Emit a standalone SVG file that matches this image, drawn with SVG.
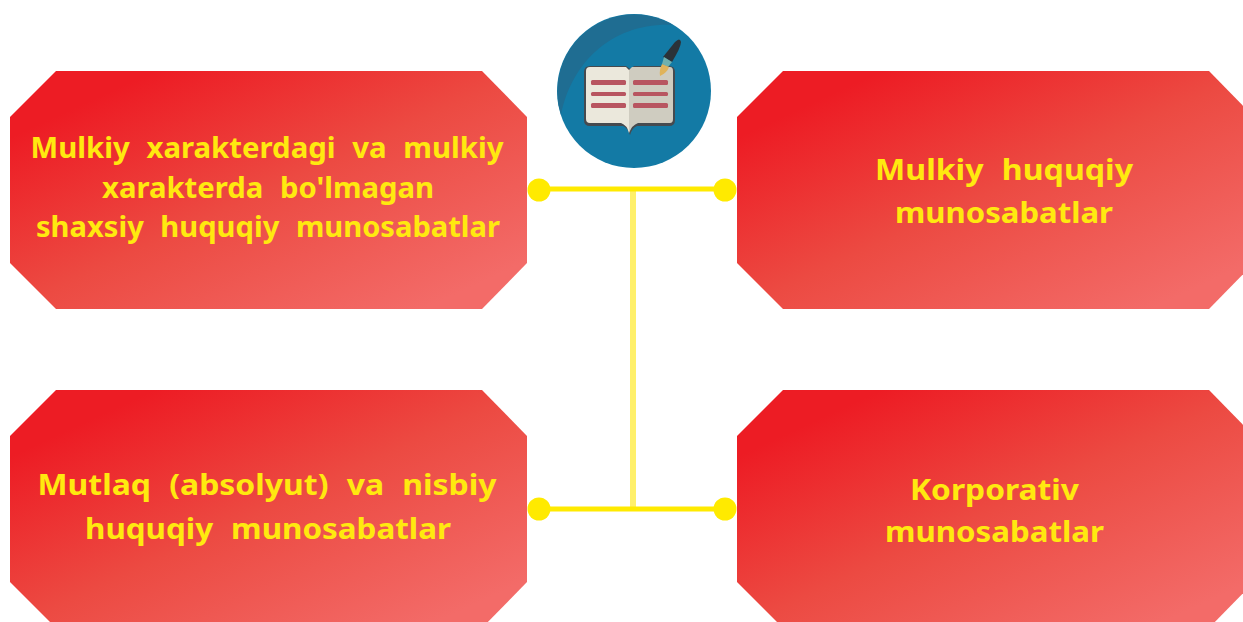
<svg xmlns="http://www.w3.org/2000/svg" width="1243" height="622" viewBox="0 0 1243 622">
<style>
.box{fill:url(#red)}
.t{font-family:"Noto Sans","Liberation Sans",sans-serif;font-weight:700;font-size:29px;fill:#ffe90f;text-anchor:middle;word-spacing:9px}
.ln{stroke:#ffea00;stroke-width:5;fill:none}
.v{stroke:#fff06a;stroke-width:6;fill:none}
.dot{fill:#ffea00}
.bar{fill:#b85560}
</style>
<defs>
<linearGradient id="red" gradientUnits="objectBoundingBox" x1="0" y1="0" x2="1" y2="1">
<stop offset="0.14" stop-color="#ed1c24"/><stop offset="0.5" stop-color="#ec4a42"/><stop offset="0.9" stop-color="#f36b68"/>
</linearGradient>
<polygon id="oct" points="46,0 472,0 517,46 517,192 472,238 46,238 0,192 0,46"/>
</defs>
<g id="connectors">
<line class="v" x1="633" y1="190" x2="633" y2="509"/>
<line class="ln" x1="539" y1="189" x2="725" y2="189"/>
<line class="ln" x1="539" y1="509" x2="725" y2="509"/>
<circle class="dot" cx="539" cy="190" r="11.5"/>
<circle class="dot" cx="725" cy="190" r="11.5"/>
<circle class="dot" cx="539" cy="509" r="11.5"/>
<circle class="dot" cx="725" cy="509" r="11.5"/>
</g>
<g id="icon">
<circle cx="634" cy="91" r="77" fill="#137aa5"/>
<path d="M561,115 A77,77 0 0 1 673,25 C615,22 572,60 561,115Z" fill="#1f6d92"/>
<path d="M590,66 H626 L630,69 L634,66 H669 Q675,66 675,72 V120 Q675,126 669,126 H637 Q632,128 630,135 Q628,128 623,126 H590 Q584,126 584,120 V72 Q584,66 590,66Z" fill="#464a4f"/>
<path d="M590,67 H626 L629,70 V133 Q627,125 621,123 H590 Q586,123 586,119 V71 Q586,67 590,67Z" fill="#ebe8dc"/>
<path d="M629,70 L632,67 H670 Q673,67 673,71 V119 Q673,123 670,123 H638 Q632,125 629,133Z" fill="#cfccc0"/>
<g>
<rect class="bar" x="591" y="80" width="35" height="5" rx="1.5"/><rect class="bar" x="591" y="92" width="35" height="4" rx="1.5"/><rect class="bar" x="591" y="103" width="35" height="5" rx="1.5"/>
<rect class="bar" x="633" y="80" width="35" height="5" rx="1.5"/><rect class="bar" x="633" y="92" width="35" height="4" rx="1.5"/><rect class="bar" x="633" y="103" width="35" height="5" rx="1.5"/>
</g>
<path d="M663,57 L675,42 Q680,37 681,42 Q681,47 672,62Z" fill="#2b3238"/>
<path d="M664,57 L672,62 L668,67 L662,64Z" fill="#6fb0ae"/>
<path d="M662,64 L669,67 Q667,73 660,76 Q659,70 662,64Z" fill="#e0b35a"/>
</g>
<g id="n1"><use class="box" href="#oct" x="10" y="71"/>
<text class="t" x="267" y="158" textLength="473" lengthAdjust="spacingAndGlyphs">Mulkiy xarakterdagi va mulkiy</text>
<text class="t" x="268" y="198" textLength="332" lengthAdjust="spacingAndGlyphs">xarakterda bo'lmagan</text>
<text class="t" x="268" y="237" textLength="464" lengthAdjust="spacingAndGlyphs">shaxsiy huquqiy munosabatlar</text></g>
<g id="n2"><use class="box" href="#oct" x="737" y="71"/>
<text class="t" x="1004" y="180" textLength="258" lengthAdjust="spacingAndGlyphs">Mulkiy huquqiy</text>
<text class="t" x="1004" y="223" textLength="218" lengthAdjust="spacingAndGlyphs">munosabatlar</text></g>
<g id="n3"><use class="box" href="#oct" x="10" y="390"/>
<text class="t" x="267" y="495" textLength="459" lengthAdjust="spacingAndGlyphs">Mutlaq (absolyut) va nisbiy</text>
<text class="t" x="268" y="539" textLength="366" lengthAdjust="spacingAndGlyphs">huquqiy munosabatlar</text></g>
<g id="n4"><use class="box" href="#oct" x="737" y="390"/>
<text class="t" x="994.5" y="500" textLength="169" lengthAdjust="spacingAndGlyphs">Korporativ</text>
<text class="t" x="994.5" y="542" textLength="219" lengthAdjust="spacingAndGlyphs">munosabatlar</text></g>
</svg>
